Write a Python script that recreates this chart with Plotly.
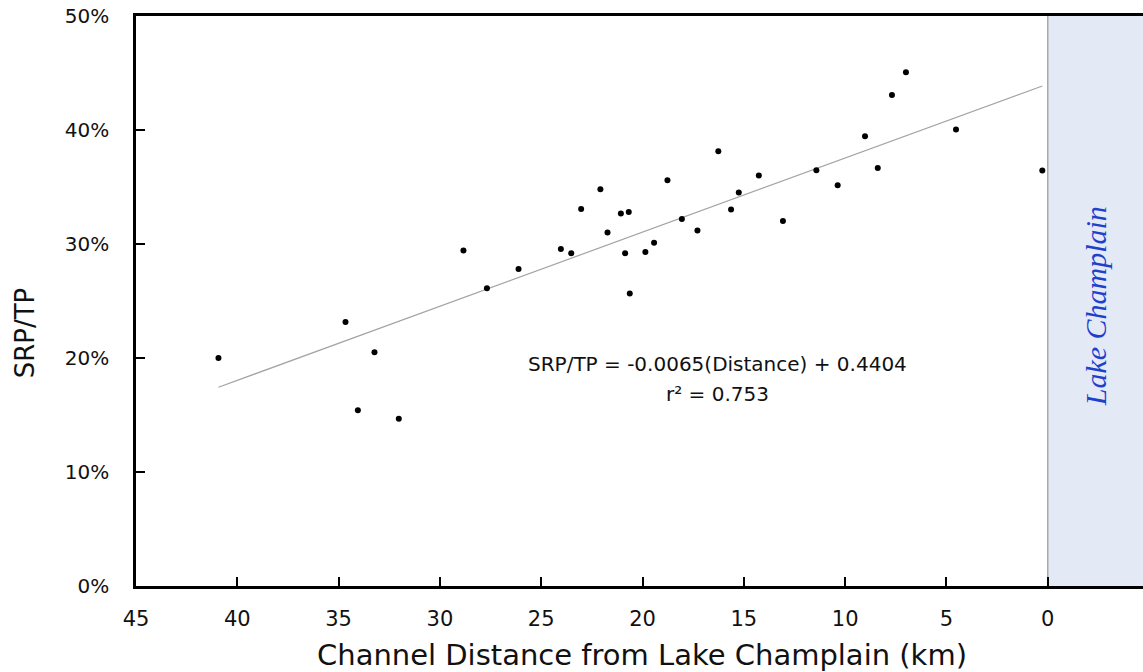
import plotly.graph_objects as go

# ---- data ----
distance_km = [40.93, 34.66, 34.05, 33.23, 32.03, 28.84, 27.68, 26.12, 24.03, 23.52,
               23.03, 22.08, 21.73, 21.07, 20.68, 20.86, 20.63, 19.86, 19.43, 18.77,
               18.06, 17.29, 16.26, 15.63, 15.25, 14.26, 13.07, 11.42, 10.37, 9.02,
               8.39, 7.69, 7.00, 4.53, 0.27]
srp_tp_pct = [20.0, 23.16, 15.41, 20.5, 14.68, 29.42, 26.11, 27.81, 29.56, 29.18,
              33.07, 34.8, 31.0, 32.67, 32.81, 29.18, 25.65, 29.3, 30.12, 35.59,
              32.19, 31.18, 38.13, 33.02, 34.51, 36.0, 32.02, 36.46, 35.15, 39.45,
              36.67, 43.07, 45.06, 40.04, 36.44]
fit_slope = -0.0065
fit_intercept = 0.4404
x_ticks = [45, 40, 35, 30, 25, 20, 15, 10, 5, 0]
y_ticks = [0, 10, 20, 30, 40, 50]
eq_text = "SRP/TP = -0.0065(Distance) + 0.4404"
r2_text = "r² = 0.753"
lake_label = "Lake Champlain"
x_title = "Channel Distance from Lake Champlain (km)"
y_title = "SRP/TP"

X_RANGE = [45, -4.7]
FONT = "DejaVu Sans"

fit_x = [max(distance_km), min(distance_km)]
fit_y = [(fit_intercept + fit_slope * d) * 100 for d in fit_x]

fig = go.Figure()
fig.add_trace(go.Scatter(x=fit_x, y=fit_y, mode="lines",
                         line=dict(color="#a3a3a3", width=1.2),
                         hoverinfo="skip", showlegend=False))
fig.add_trace(go.Scatter(x=distance_km, y=srp_tp_pct, mode="markers",
                         marker=dict(color="black", size=6),
                         showlegend=False))

# Lake region
fig.add_shape(type="rect", xref="x", yref="y", x0=0, x1=X_RANGE[1], y0=0, y1=50,
              fillcolor="#e4eaf5", line=dict(width=0), layer="below")
fig.add_shape(type="line", xref="x", yref="y", x0=0, x1=0, y0=0, y1=50,
              line=dict(color="#a8a8a8", width=1.5), layer="below")


def px_x(px):
    return (px - 136) / 1007


def px_y(py):
    return (585.7 - py) / 570


fig.add_annotation(x=px_x(717), y=px_y(364), xref="paper", yref="paper",
                   text=eq_text, showarrow=False, xanchor="center", yanchor="middle",
                   font=dict(family=FONT, size=20, color="#111"))
fig.add_annotation(x=px_x(717), y=px_y(394), xref="paper", yref="paper",
                   text=r2_text, showarrow=False, xanchor="center", yanchor="middle",
                   font=dict(family=FONT, size=20, color="#111"))
fig.add_annotation(x=px_x(1095), y=px_y(306), xref="paper", yref="paper",
                   text=lake_label, showarrow=False, textangle=-90,
                   xanchor="center", yanchor="middle",
                   font=dict(family="Liberation Serif", size=30, color="#1f40cc", style="italic"))
fig.add_annotation(x=px_x(642), y=px_y(655), xref="paper", yref="paper",
                   text=x_title, showarrow=False, xanchor="center", yanchor="middle",
                   font=dict(family=FONT, size=29, color="#111"))
fig.add_annotation(x=px_x(25), y=px_y(333), xref="paper", yref="paper",
                   text=y_title, showarrow=False, textangle=-90,
                   xanchor="center", yanchor="middle",
                   font=dict(family=FONT, size=26, color="#111"))

fig.update_layout(
    width=1143, height=672,
    margin=dict(l=136, r=0, t=16, b=86),
    paper_bgcolor="white", plot_bgcolor="white",
    font=dict(family=FONT, color="#111"),
    showlegend=False,
    xaxis=dict(range=X_RANGE, tickmode="array", tickvals=x_ticks,
               ticktext=[str(t) for t in x_ticks],
               showgrid=False, zeroline=False, showline=True, linecolor="black",
               linewidth=2.5, mirror=True, ticks="inside", ticklen=9, tickwidth=2,
               tickcolor="black", tickfont=dict(family=FONT, size=21, color="#111"),
               ticklabelstandoff=12),
    yaxis=dict(range=[0, 50], tickmode="array", tickvals=y_ticks,
               ticktext=[f"{t}%" for t in y_ticks],
               showgrid=False, zeroline=False, showline=True, linecolor="black",
               linewidth=2.5, ticks="inside", ticklen=9, tickwidth=2,
               tickcolor="black", tickfont=dict(family=FONT, size=20, color="#111"),
               ticklabelstandoff=20),
)

fig.write_html("out.html")
